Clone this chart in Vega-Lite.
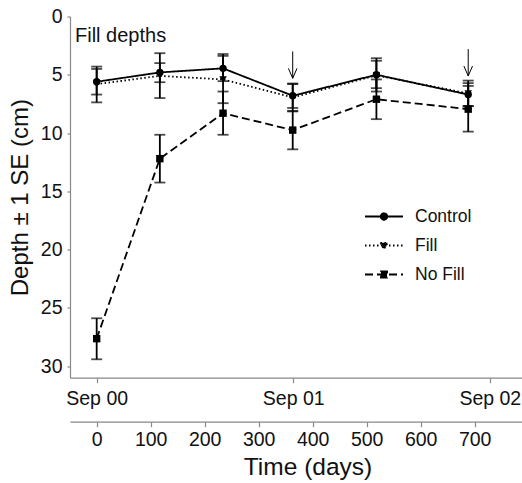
{
  "$schema": "https://vega.github.io/schema/vega-lite/v6.json",
  "width": 452,
  "height": 361.2,
  "autosize": "none",
  "padding": {"left": 70, "top": 16.5, "right": 0, "bottom": 105.3},
  "background": "white",
  "title": {"text": "Fill depths", "anchor": "start", "frame": "group", "fontSize": 20, "fontWeight": "normal", "font": "Liberation Sans", "color": "#111", "offset": 0, "baseline": "alphabetic", "dx": 5, "dy": 55},
  "config": {
    "view": {"stroke": null},
    "font": "Liberation Sans",
    "axis": {"grid": false, "domainColor": "#888", "tickColor": "#888", "labelColor": "#111", "titleColor": "#111", "labelFont": "Liberation Sans", "titleFont": "Liberation Sans", "titleFontWeight": "normal", "labelFontSize": 19.5, "titleFontSize": 23, "domainWidth": 1.2, "tickWidth": 1.2, "labelFlush": false, "labelOverlap": false}
  },
  "datasets": {
    "obs": [
      {"series": "Control", "day": 0, "depth": 5.6, "lo": 4.5, "hi": 6.7},
      {"series": "Control", "day": 117, "depth": 4.8, "lo": 4.0, "hi": 5.64},
      {"series": "Control", "day": 234, "depth": 4.45, "lo": 3.38, "hi": 5.55},
      {"series": "Control", "day": 363, "depth": 6.8, "lo": 5.8, "hi": 7.85},
      {"series": "Control", "day": 518, "depth": 5.0, "lo": 3.8, "hi": 6.15},
      {"series": "Control", "day": 688, "depth": 6.7, "lo": 5.72, "hi": 7.68},
      {"series": "Fill", "day": 0, "depth": 5.8, "lo": 4.3, "hi": 7.37},
      {"series": "Fill", "day": 117, "depth": 5.1, "lo": 3.15, "hi": 7.0},
      {"series": "Fill", "day": 234, "depth": 5.4, "lo": 3.22, "hi": 7.44},
      {"series": "Fill", "day": 363, "depth": 6.95, "lo": 5.75, "hi": 8.15},
      {"series": "Fill", "day": 518, "depth": 5.05, "lo": 3.58, "hi": 6.44},
      {"series": "Fill", "day": 688, "depth": 6.6, "lo": 5.5, "hi": 7.7},
      {"series": "No Fill", "day": 0, "depth": 27.65, "lo": 25.9, "hi": 29.42},
      {"series": "No Fill", "day": 117, "depth": 12.2, "lo": 10.15, "hi": 14.25},
      {"series": "No Fill", "day": 234, "depth": 8.3, "lo": 6.44, "hi": 10.15},
      {"series": "No Fill", "day": 363, "depth": 9.75, "lo": 8.1, "hi": 11.4},
      {"series": "No Fill", "day": 518, "depth": 7.1, "lo": 5.4, "hi": 8.81},
      {"series": "No Fill", "day": 688, "depth": 7.95, "lo": 5.96, "hi": 9.88}
    ],
    "arrows": [
      {"day": 363, "top": 3.0, "tip": 5.3},
      {"day": 688, "top": 2.8, "tip": 5.1}
    ]
  },
  "layer": [
    {
      "data": {"name": "obs"},
      "mark": {"type": "line", "strokeWidth": 1.8, "color": "black"},
      "encoding": {
        "x": {"field": "day", "type": "quantitative", "scale": {"domain": [-49.4, 787.6], "nice": false, "zero": false},
          "axis": {"orient": "bottom", "offset": 0, "values": [0, 364, 728], "labelExpr": "datum.value < 100 ? 'Sep 00' : (datum.value < 500 ? 'Sep 01' : 'Sep 02')", "title": null, "tickSize": 5, "labelPadding": 7}},
        "y": {"field": "depth", "type": "quantitative", "scale": {"domain": [0, 31], "reverse": true, "nice": false, "zero": false},
          "axis": {"orient": "left", "values": [0, 5, 10, 15, 20, 25, 30], "title": "Depth ± 1 SE (cm)", "titleFontSize": 24, "tickSize": 3, "labelPadding": 5, "titlePadding": 8}},
        "strokeDash": {"field": "series", "type": "nominal",
          "scale": {"domain": ["Control", "Fill", "No Fill"], "range": [[1, 0], [1.5, 2.5], [8, 4]]},
          "legend": {"title": null, "orient": "none", "legendX": 294, "legendY": 180, "symbolSize": 1444, "symbolStrokeWidth": 1.8, "symbolStrokeColor": "black", "labelFontSize": 17.5, "labelFont": "Liberation Sans", "labelColor": "#111", "labelOffset": 11, "rowPadding": -2.5, "padding": 0,
            "encode": {"symbols": {"update": {"fill": {"value": "black"}, "stroke": {"value": "black"}, "strokeWidth": {"value": 1.8}, "shape": {"signal": "datum.value === 'Control' ? 'M-1,0L1,0M0.17,0A0.17,0.17,0,1,1,-0.17,0A0.17,0.17,0,1,1,0.17,0Z' : (datum.value === 'Fill' ? 'M-1,0L1,0M-0.19,-0.14L0.19,-0.14L0,0.19Z' : 'M-1,0L1,0M-0.16,-0.16L0.16,-0.16L0.16,0.16L-0.16,0.16Z')"}}}}}
        }
      }
    },
    {
      "data": {"name": "obs"},
      "mark": {"type": "rule", "strokeWidth": 1.8, "color": "black"},
      "encoding": {
        "x": {"field": "day", "type": "quantitative", "axis": null},
        "y": {"field": "lo", "type": "quantitative", "axis": null},
        "y2": {"field": "hi"}
      }
    },
    {
      "data": {"name": "obs"},
      "mark": {"type": "tick", "orient": "horizontal", "size": 11, "thickness": 1.8, "color": "black"},
      "encoding": {
        "x": {"field": "day", "type": "quantitative", "axis": null},
        "y": {"field": "lo", "type": "quantitative", "axis": null}
      }
    },
    {
      "data": {"name": "obs"},
      "mark": {"type": "tick", "orient": "horizontal", "size": 11, "thickness": 1.8, "color": "black"},
      "encoding": {
        "x": {"field": "day", "type": "quantitative", "axis": null},
        "y": {"field": "hi", "type": "quantitative", "axis": null}
      }
    },
    {
      "data": {"name": "arrows"},
      "mark": {"type": "rule", "strokeWidth": 1, "color": "black"},
      "encoding": {
        "x": {"field": "day", "type": "quantitative", "axis": null},
        "y": {"field": "top", "type": "quantitative", "axis": null},
        "y2": {"field": "tip"}
      }
    },
    {
      "data": {"name": "arrows"},
      "mark": {"type": "point", "shape": "M-1,-2.3L0,0L1,-2.3", "size": 74, "filled": false, "fill": null, "stroke": "black", "strokeWidth": 1, "opacity": 1},
      "encoding": {
        "x": {"field": "day", "type": "quantitative", "axis": null},
        "y": {"field": "tip", "type": "quantitative", "axis": null}
      }
    },
    {
      "data": {"name": "obs"},
      "transform": [{"filter": "datum.series === 'Control'"}],
      "mark": {"type": "point", "shape": "circle", "filled": true, "size": 55, "color": "black", "opacity": 1},
      "encoding": {
        "x": {"field": "day", "type": "quantitative", "axis": null},
        "y": {"field": "depth", "type": "quantitative", "axis": null}
      }
    },
    {
      "data": {"name": "obs"},
      "transform": [{"filter": "datum.series === 'Fill'"}],
      "mark": {"type": "point", "shape": "triangle-down", "filled": true, "size": 55, "color": "black", "opacity": 1},
      "encoding": {
        "x": {"field": "day", "type": "quantitative", "axis": null},
        "y": {"field": "depth", "type": "quantitative", "axis": null}
      }
    },
    {
      "data": {"name": "obs"},
      "transform": [{"filter": "datum.series === 'No Fill'"}],
      "mark": {"type": "point", "shape": "square", "filled": true, "size": 55, "color": "black", "opacity": 1},
      "encoding": {
        "x": {"field": "day", "type": "quantitative",
          "axis": {"orient": "bottom", "offset": 44, "values": [0, 100, 200, 300, 400, 500, 600, 700], "title": "Time (days)", "titleFontSize": 24.5, "titleX": 237.5, "titlePadding": 6, "tickSize": 5, "labelPadding": 4}},
        "y": {"field": "depth", "type": "quantitative", "axis": null}
      }
    }
  ],
  "resolve": {"scale": {"x": "shared", "y": "shared"}, "axis": {"x": "independent", "y": "independent"}}
}
